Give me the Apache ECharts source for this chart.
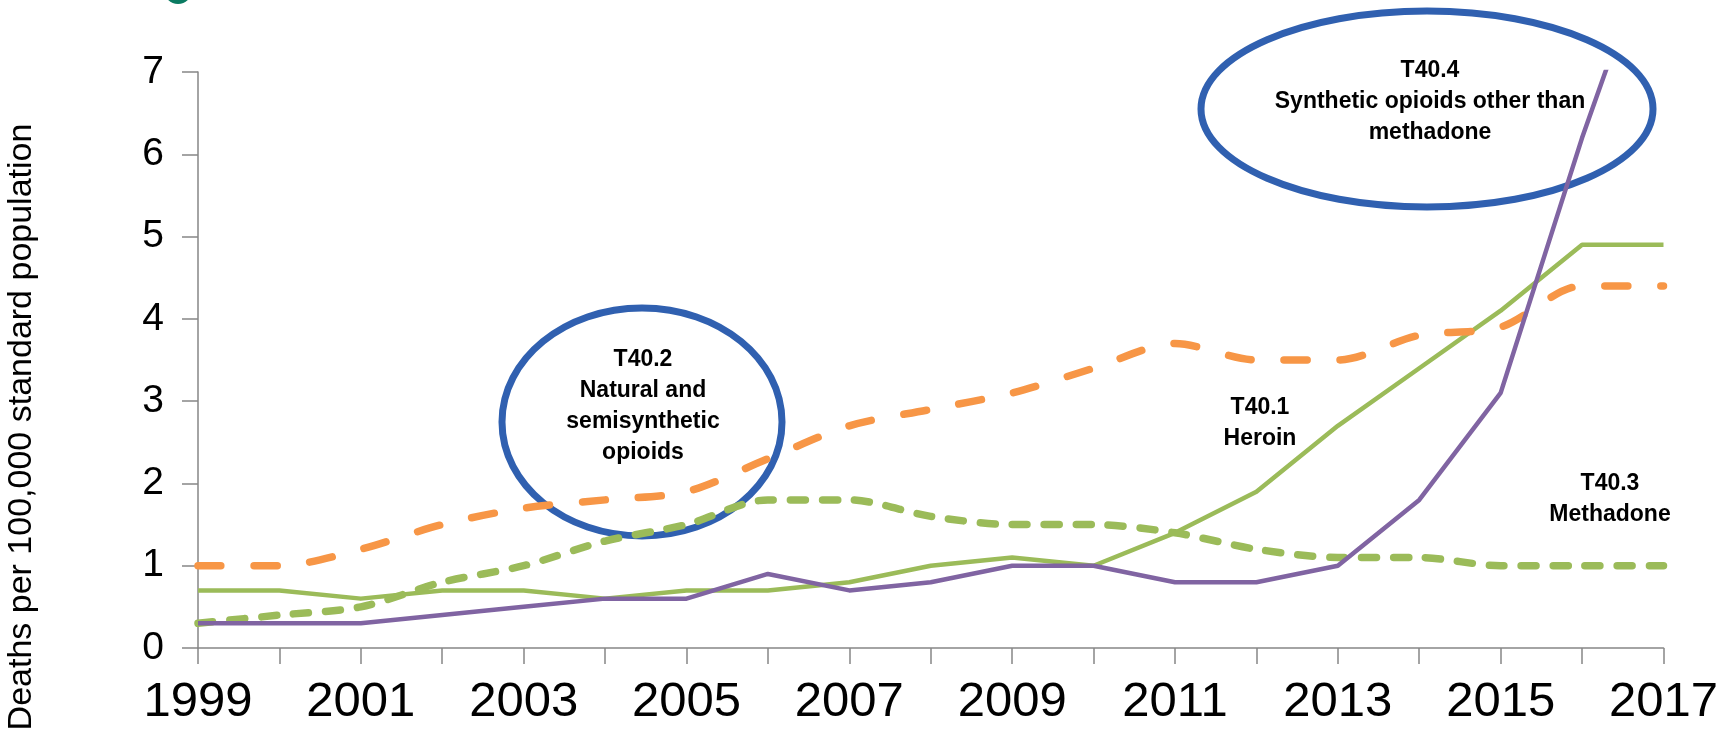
<!DOCTYPE html>
<html>
<head>
<meta charset="utf-8">
<script src="https://cdn.jsdelivr.net/npm/echarts@6/dist/echarts.min.js"></script>
<style>
html,body{margin:0;padding:0;background:#ffffff;}
#chart{width:1721px;height:730px;}
</style>
</head>
<body>
<div id="chart"></div>
<script>
// ---- data ----
const years = ['1999','2000','2001','2002','2003','2004','2005','2006','2007','2008','2009','2010','2011','2012','2013','2014','2015','2016','2017'];
// T40.1 Heroin (solid green)
const heroin    = [0.7,0.7,0.6,0.7,0.7,0.6,0.7,0.7,0.8,1.0,1.1,1.0,1.4,1.9,2.7,3.4,4.1,4.9,4.9];
// T40.2 Natural and semisynthetic opioids (dashed orange)
const natural   = [1.0,1.0,1.2,1.5,1.7,1.8,1.9,2.3,2.7,2.9,3.1,3.4,3.7,3.5,3.5,3.8,3.9,4.4,4.4];
// T40.3 Methadone (dashed green)
const methadone = [0.3,0.4,0.5,0.8,1.0,1.3,1.5,1.8,1.8,1.6,1.5,1.5,1.4,1.2,1.1,1.1,1.0,1.0,1.0];
// T40.4 Synthetic opioids other than methadone (solid purple, runs off the top)
const synthetic = [0.3,0.3,0.3,0.4,0.5,0.6,0.6,0.9,0.7,0.8,1.0,1.0,0.8,0.8,1.0,1.8,3.1,6.2,9.0];
const yMin = 0, yMax = 7, yStep = 1;
const yTitle = 'Deaths per 100,000 standard population';

const chart = echarts.init(document.getElementById('chart'), null, {renderer:'canvas'});
const axisGrey = '#868686';
const labelFont = '"Liberation Sans", Arial, sans-serif';

chart.setOption({
  animation: false,
  backgroundColor: '#ffffff',
  grid: {left: 198, right: 53, top: 72, bottom: 82, containLabel: false},
  xAxis: {
    type: 'category',
    data: years,
    boundaryGap: false,
    axisLine: {show: true, lineStyle: {color: axisGrey, width: 1.5}},
    axisTick: {show: true, interval: 0, length: 16, lineStyle: {color: axisGrey, width: 1.5}},
    axisLabel: {interval: 1, color: '#000', fontSize: 49, fontFamily: '"Liberation Sans Narrow", "Liberation Sans", sans-serif', margin: 30},
    splitLine: {show: false}
  },
  yAxis: {
    type: 'value',
    min: yMin, max: yMax, interval: yStep,
    axisLine: {show: true, lineStyle: {color: axisGrey, width: 1.5}},
    axisTick: {show: true, length: 16, lineStyle: {color: axisGrey, width: 1.5}},
    axisLabel: {color: '#000', fontSize: 39, fontFamily: labelFont, margin: 34},
    splitLine: {show: false}
  },
  series: [
    {name: 'T40.1 Heroin', type: 'line', data: heroin, showSymbol: false, z: 3,
     lineStyle: {color: '#9BBB59', width: 4.5, join: 'round'}},
    {name: 'T40.2 Natural and semisynthetic opioids', type: 'line', data: natural, showSymbol: false, smooth: 0.3, z: 3,
     lineStyle: {color: '#F79646', width: 7.5, type: [23, 33], cap: 'round', join: 'round'}},
    {name: 'T40.3 Methadone', type: 'line', data: methadone, showSymbol: false, smooth: 0.3, z: 3,
     lineStyle: {color: '#9BBB59', width: 7.5, type: [15, 17], cap: 'round', join: 'round'}},
    {name: 'T40.4 Synthetic opioids other than methadone', type: 'line', data: synthetic, showSymbol: false, z: 4, clip: true,
     lineStyle: {color: '#8064A2', width: 4.5, join: 'round'}}
  ],
  graphic: [
    {type: 'circle', z: 1, shape: {cx: 178, cy: -10, r: 14}, style: {fill: '#0B7B62'}},
    {type: 'text', z: 10, x: 22, y: 427, rotation: Math.PI / 2,
     style: {text: yTitle, fill: '#000', font: '34px "Liberation Sans", Arial, sans-serif',
             textAlign: 'center', textVerticalAlign: 'middle', align: 'center', verticalAlign: 'middle'}},
    {type: 'ellipse', z: 1, shape: {cx: 642, cy: 422, rx: 140, ry: 114},
     style: {fill: 'none', stroke: '#3060B0', lineWidth: 7}},
    {type: 'ellipse', z: 1, shape: {cx: 1427, cy: 109, rx: 226, ry: 98},
     style: {fill: 'none', stroke: '#3060B0', lineWidth: 7}},
    {type: 'text', z: 10, x: 643, y: 406,
     style: {text: 'T40.2\nNatural and\nsemisynthetic\nopioids', fill: '#000', font: 'bold 23px "Liberation Sans", Arial, sans-serif',
             lineHeight: 31, textAlign: 'center', textVerticalAlign: 'middle', align: 'center', verticalAlign: 'middle'}},
    {type: 'text', z: 10, x: 1430, y: 102,
     style: {text: 'T40.4\nSynthetic opioids other than\nmethadone', fill: '#000', font: 'bold 23px "Liberation Sans", Arial, sans-serif',
             lineHeight: 31, textAlign: 'center', textVerticalAlign: 'middle', align: 'center', verticalAlign: 'middle'}},
    {type: 'text', z: 10, x: 1260, y: 423,
     style: {text: 'T40.1\nHeroin', fill: '#000', font: 'bold 23px "Liberation Sans", Arial, sans-serif',
             lineHeight: 31, textAlign: 'center', textVerticalAlign: 'middle', align: 'center', verticalAlign: 'middle'}},
    {type: 'text', z: 10, x: 1610, y: 499,
     style: {text: 'T40.3\nMethadone', fill: '#000', font: 'bold 23px "Liberation Sans", Arial, sans-serif',
             lineHeight: 31, textAlign: 'center', textVerticalAlign: 'middle', align: 'center', verticalAlign: 'middle'}}
  ]
});
</script>
</body>
</html>
